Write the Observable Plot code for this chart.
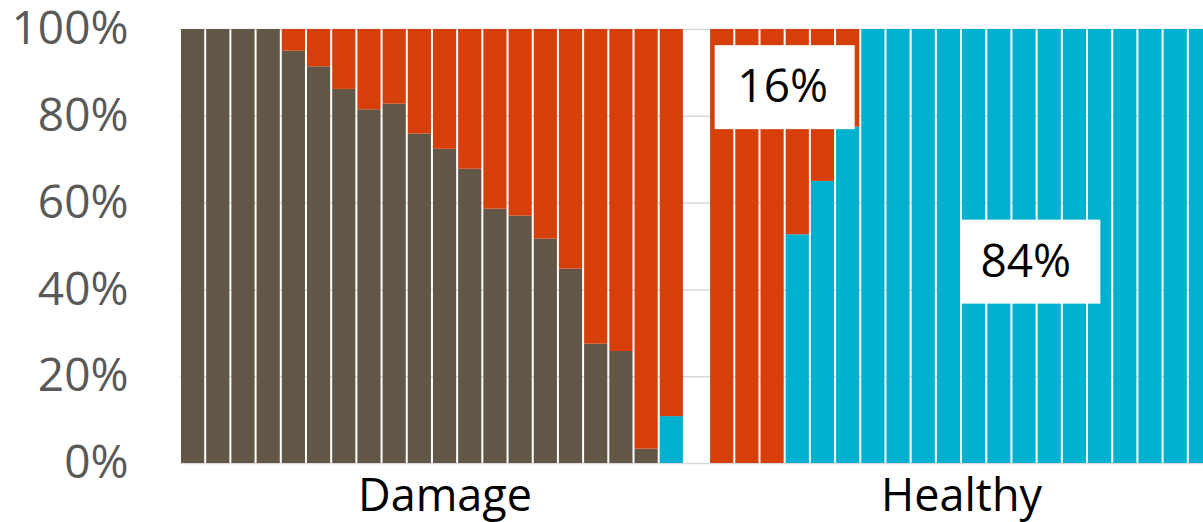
<!DOCTYPE html>
<html>
<head>
<meta charset="utf-8">
<script src="https://cdn.jsdelivr.net/npm/d3@7"></script>
<script src="https://cdn.jsdelivr.net/npm/@observablehq/plot@0.6"></script>
<style>
  html, body { margin: 0; padding: 0; background: #fff; overflow: hidden; }
  #chart svg {
    display: block;
    font-family: "Open Sans", sans-serif;
    color: #595959;
    max-width: none !important;
    height: 522px !important;
    overflow: visible;
  }
</style>
</head>
<body>
<div id="chart"></div>
<script>
// Share of each outcome per sample (percent), bottom-to-top: brown, cyan, orange
const groups = ["Damage", "Healthy"];
const seriesNames = ["Series 1", "Series 2", "Series 3"];
const seriesColors = ["#625646", "#00B0CF", "#D63E0A"];

const damageBrown  = [100, 100, 100, 100, 95, 91.4, 86.2, 81.5, 82.8, 75.9, 72.4, 67.8, 58.6, 57.0, 51.7, 44.8, 27.5, 25.8, 3.3, 0];
const damageCyan   = [0, 0, 0, 0, 0, 0, 0, 0, 0, 0, 0, 0, 0, 0, 0, 0, 0, 0, 0, 10.8];
const damageOrange = [0, 0, 0, 0, 5, 8.6, 13.8, 18.5, 17.2, 24.1, 27.6, 32.2, 41.4, 43.0, 48.3, 55.2, 72.5, 74.2, 96.7, 89.2];

const healthyBrown  = [0, 0, 0, 0, 0, 0, 0, 0, 0, 0, 0, 0, 0, 0, 0, 0, 0, 0, 0, 0];
const healthyCyan   = [0, 0, 0, 52.7, 65.0, 77.5, 100, 100, 100, 100, 100, 100, 100, 100, 100, 100, 100, 100, 100, 100];
const healthyOrange = [100, 100, 100, 47.3, 35.0, 22.5, 0, 0, 0, 0, 0, 0, 0, 0, 0, 0, 0, 0, 0, 0];

const yTicks = [0, 20, 40, 60, 80, 100];

// Group summary callouts: text, box position (slot, percent), text position (slot)
const calloutText = ["16%", "84%"];
const calloutSlot = [24.0, 33.75];
const calloutPct  = [86.6, 46.4];
const calloutTextSlot = [23.9, 33.55];

// Lay the bars out in slots: Damage group, one empty slot, then Healthy group
const groupSeries = [
  [damageBrown, damageCyan, damageOrange],
  [healthyBrown, healthyCyan, healthyOrange]
];
const rows = [];
const groupSpans = [];
let start = 0;
groupSeries.forEach((arrs, g) => {
  const n = arrs[0].length;
  for (let i = 0; i < n; i++) {
    arrs.forEach((arr, s) => {
      rows.push({group: groups[g], slot: start + i, series: seriesNames[s], value: arr[i]});
    });
  }
  const span = g === 0 ? n + 1 : n; // Damage group carries a trailing blank slot
  groupSpans.push({group: groups[g], mid: start + span / 2});
  start += span;
});
const totalSlots = start;

const callouts = calloutText.map((t, i) => ({
  text: t, slot: calloutSlot[i], pct: calloutPct[i], textSlot: calloutTextSlot[i]
}));

const chart = Plot.plot({
  width: 1214,
  height: 522,
  marginLeft: 180,
  marginRight: 1,
  marginTop: 29,
  marginBottom: 59,
  x: {domain: [0, totalSlots], axis: null},
  y: {domain: [0, 100], axis: null},
  color: {domain: seriesNames, range: seriesColors},
  marks: [
    Plot.ruleY(yTicks, {stroke: "#d9d9d9", strokeWidth: 1.5}),
    Plot.rectY(rows, {x: "slot", interval: 1, y: "value", fill: "series", insetLeft: 1, insetRight: 1}),
    Plot.axisY(yTicks, {
      tickSize: 0,
      tickPadding: 52,
      tickFormat: d => d + "%",
      fontSize: 46,
      fill: "#595959"
    }),
    Plot.text(groupSpans, {
      x: "mid",
      y: () => 0,
      text: "group",
      lineAnchor: "bottom",
      dy: 47,
      fontSize: 45,
      fill: "#000"
    }),
    Plot.rect(callouts, {
      x1: "slot", x2: "slot", y1: "pct", y2: "pct",
      insetLeft: -70, insetRight: -70, insetTop: -42, insetBottom: -42,
      fill: "#fff"
    }),
    Plot.text(callouts, {
      x: "textSlot",
      y: "pct",
      text: "text",
      fontSize: 46,
      fill: "#000"
    })
  ]
});

document.getElementById("chart").appendChild(chart);
</script>
</body>
</html>
